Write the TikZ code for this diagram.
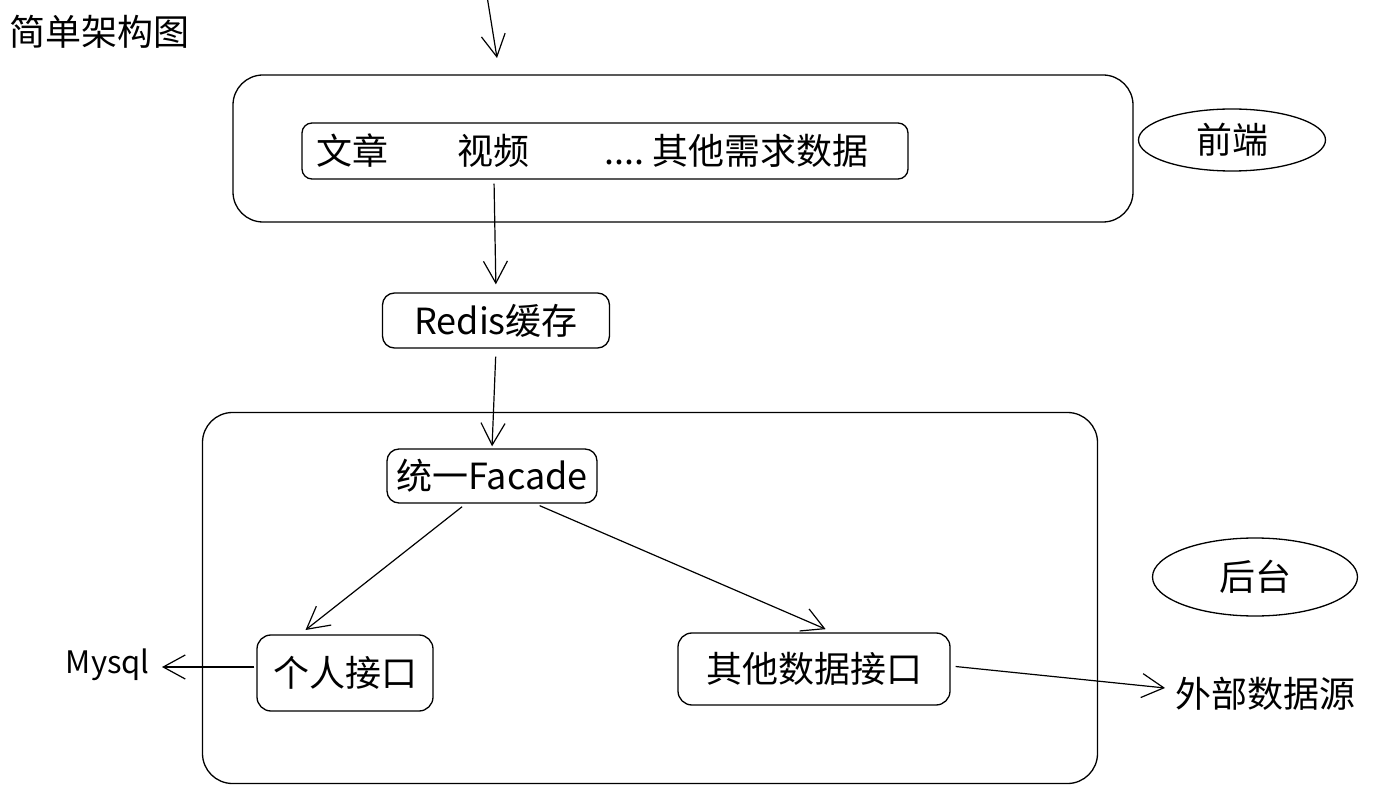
\documentclass[tikz,border=0pt]{standalone}
\usepackage{fontspec}
\setmainfont{Noto Sans CJK SC}
\usetikzlibrary{arrows.meta,shapes.geometric}
\tikzset{
  txt/.style={font=\fontsize{36}{40}\selectfont},
  bigbox/.style={draw, line width=1.3pt, rounded corners=30pt, inner sep=0pt},
  smallbox/.style={draw, line width=1.3pt, rounded corners=12pt, inner sep=0pt, txt},
  label/.style={inner sep=0pt, txt},
  oval/.style={draw, line width=1.3pt, ellipse, inner sep=0pt, txt},
  arr/.style={line width=1.2pt, -{Straight Barb[length=22pt,width=24pt,line width=1.2pt]}},
}
\begin{document}
\begin{tikzpicture}[x=1pt,y=-1pt]
\useasboundingbox (0,0) rectangle (1393,799);
\node[label, anchor=west] (title) at (9,32) {简单架构图};
% front end
\node[bigbox, minimum width=900pt, minimum height=147pt] (front) at (683,148.5) {};
\node[smallbox, minimum width=606pt, minimum height=56pt, text width=578pt, align=left, inner xsep=14pt, rounded corners=10pt] (inner) at (605,151)
  {文章\hspace{70pt}视频\hspace{74pt}....\hspace{8pt}其他需求数据};
\node[oval, minimum width=187pt, minimum height=62pt] (fe) at (1232,140) {前端};
\coordinate (topstart) at (487,-4);
\coordinate (topend) at (497,58);
\draw[arr] (topstart) -- (topend);
% redis
\node[smallbox, minimum width=227pt, minimum height=55pt] (redis) at (496,320.5) {Redis缓存};
\draw[arr, shorten >=8pt, shorten <=4pt] ([xshift=-111pt]inner.south) -- (redis.north);
% back end
\node[bigbox, minimum width=895pt, minimum height=371pt] (back) at (650,598) {};
\node[smallbox, minimum width=210pt, minimum height=54pt] (facade) at (492,476) {统一Facade};
\draw[arr, shorten >=2pt, shorten <=8pt] (redis.south) -- (facade.north);
\node[smallbox, minimum width=176pt, minimum height=76pt, rounded corners=14pt] (personal) at (345,673) {个人接口};
\node[smallbox, minimum width=272pt, minimum height=72pt, rounded corners=14pt] (other) at (814,669) {其他数据接口};
\draw[arr, shorten >=7pt, shorten <=5pt] ([xshift=-26pt]facade.south) -- ([xshift=-45pt]personal.north);
\draw[arr, shorten >=8pt, shorten <=5pt] ([xshift=43pt]facade.south) -- ([xshift=19pt]other.north);
\node[oval, minimum width=205pt, minimum height=78pt] (be) at (1255,577) {后台};
% externals
\node[label, anchor=east, font=\fontsize{31}{34}\selectfont] (mysql) at (150,665) {Mysql};
\draw[arr, shorten >=12pt, shorten <=2pt] (personal.west |- 0,667) -- (mysql.east |- 0,667);
\node[label, anchor=west] (ext) at (1175,694) {外部数据源};
\draw[arr, shorten >=10pt, shorten <=5pt] (other.east |- 0,666) -- (ext.west |- 0,689);
\end{tikzpicture}
\end{document}
